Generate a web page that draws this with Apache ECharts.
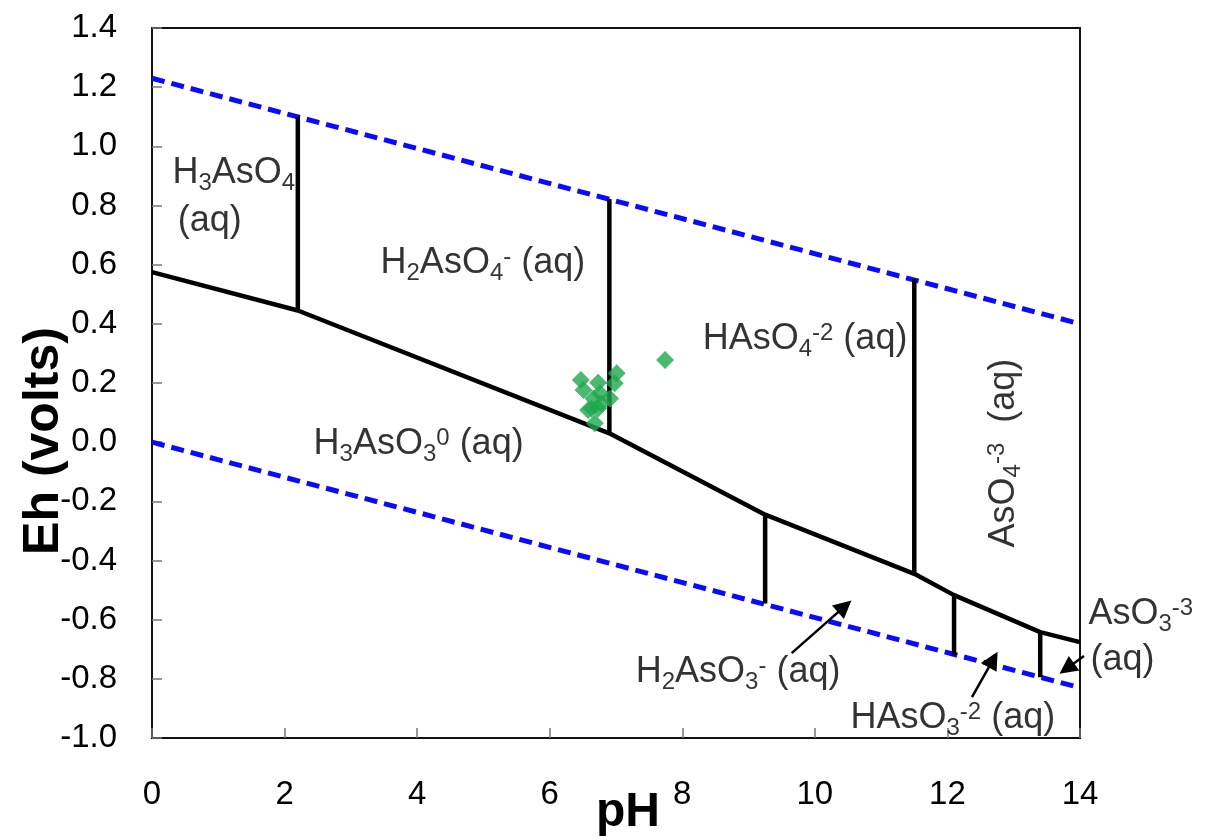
<!DOCTYPE html>
<html>
<head>
<meta charset="utf-8">
<script src="https://cdn.jsdelivr.net/npm/echarts@6/dist/echarts.min.js"></script>
<style>
html,body{margin:0;padding:0;background:#fff;}
#chart{width:1206px;height:837px;}
</style>
</head>
<body>
<div id="chart"></div>
<script>
// ---------- data ----------
const xTicks = [0, 2, 4, 6, 8, 10, 12, 14];
const yTicks = [-1.0, -0.8, -0.6, -0.4, -0.2, 0.0, 0.2, 0.4, 0.6, 0.8, 1.0, 1.2, 1.4];

// water stability limits (pH, Eh)
const waterUpper = [[0, 1.23], [14, 0.40]];
const waterLower = [[0, 0.0], [14, -0.83]];

// As(V) / As(III) boundary
const redoxBoundary = [[0, 0.575], [2.2, 0.445], [6.9, 0.03], [9.25, -0.245],
  [11.5, -0.445], [12.1, -0.517], [13.4, -0.642], [14, -0.676]];

// vertical speciation boundaries
const boundaryPH  = [2.2, 6.9, 11.5, 9.25, 12.1, 13.4];
const boundaryLow = [0.445, 0.03, -0.445, -0.545, -0.72, -0.795];
const boundaryHigh = [1.10, 0.822, 0.551, -0.245, -0.517, -0.642];

// groundwater samples
const samplePH = [7.74, 6.47, 6.51, 6.73, 7.01, 6.98, 6.91, 6.76, 6.66, 6.63, 6.73, 6.58, 6.68, 6.78];
const sampleEh = [0.278, 0.210, 0.176, 0.201, 0.233, 0.199, 0.148, 0.165, 0.148, 0.114, 0.114, 0.109, 0.064, 0.131];

// species labels (rich text) and their anchors (pH, Eh)
const labelTexts = [
  '{n|H}{b|3}{n|AsO}{b|4}',
  '{n|(aq)}',
  '{n|H}{b|2}{n|AsO}{b|4}{p|-}{n| (aq)}',
  '{n|H}{b|3}{n|AsO}{b|3}{p|0}{n| (aq)}',
  '{n|HAsO}{b|4}{p|-2}{n| (aq)}',
  '{n|AsO}{b|4}{p|-3}{n|  (aq)}',
  '{n|H}{b|2}{n|AsO}{b|3}{p|-}{n| (aq)}',
  '{n|HAsO}{b|3}{p|-2}{n| (aq)}',
  '{n|AsO}{b|3}{p|-3}',
  '{n|(aq)}'
];
const labelPH = [0.30, 0.38, 3.44, 2.43, 8.30, 12.85, 7.29, 10.53, 14.12, 14.15];
const labelEh = [0.91, 0.747, 0.606, -0.006, 0.349, -0.037, -0.777, -0.933, -0.581, -0.737];
const labelVertical = [false, false, false, false, false, true, false, false, false, false];

// annotation arrows: [tail, head]
const arrowTail = [[9.65, -0.713], [12.37, -0.862], [14.06, -0.723]];
const arrowHead = [[10.45, -0.555], [12.69, -0.735], [13.80, -0.765]];

// ---------- chart ----------
const FONT = "'Liberation Sans', Arial, Helvetica, sans-serif";
const rich = {
  n: {fontSize: 36, lineHeight: 44, verticalAlign: 'middle', color: '#000', fontFamily: FONT},
  b: {fontSize: 24, lineHeight: 44, verticalAlign: 'bottom', color: '#000', fontFamily: FONT},
  p: {fontSize: 24, lineHeight: 44, verticalAlign: 'top', padding: [4, 0, 0, 0], color: '#000', fontFamily: FONT}
};

const series = [];
series.push({type: 'line', data: waterUpper, showSymbol: false, silent: true,
  lineStyle: {color: '#0a0aff', width: 5, type: [13, 7]}, z: 3});
series.push({type: 'line', data: waterLower, showSymbol: false, silent: true,
  lineStyle: {color: '#0a0aff', width: 5, type: [13, 7]}, z: 3});
series.push({type: 'line', data: redoxBoundary, showSymbol: false, silent: true,
  lineStyle: {color: '#000', width: 4.5}, z: 4});
boundaryPH.forEach((ph, i) => {
  series.push({type: 'line', data: [[ph, boundaryLow[i]], [ph, boundaryHigh[i]]],
    showSymbol: false, silent: true, lineStyle: {color: '#000', width: 4.5, cap: 'butt'}, z: 4});
});
series.push({type: 'scatter', data: samplePH.map((p, i) => [p, sampleEh[i]]),
  symbol: 'diamond', symbolSize: 18, itemStyle: {color: '#1ea84d'}, z: 6});
series.push({type: 'scatter', clip: false, silent: true, z: 7,
  symbolSize: 1, itemStyle: {color: 'rgba(0,0,0,0)'},
  data: labelTexts.map((t, i) => ({
    value: [labelPH[i], labelEh[i]],
    label: labelVertical[i]
      ? {show: true, formatter: t, rich: rich, position: 'inside', rotate: 90, align: 'center', verticalAlign: 'middle'}
      : {show: true, formatter: t, rich: rich, position: 'right', distance: 0}
  }))
});
series.push({type: 'lines', coordinateSystem: 'cartesian2d', clip: false, silent: true, z: 8,
  symbol: ['none', 'triangle'], symbolSize: [15, 18],
  lineStyle: {color: '#000', width: 2.5, opacity: 1},
  itemStyle: {color: '#000'},
  data: arrowTail.map((t, i) => ({coords: [t, arrowHead[i]]}))
});

const chart = echarts.init(document.getElementById('chart'), null, {renderer: 'canvas'});
chart.setOption({
  animation: false,
  backgroundColor: '#fff',
  grid: {left: 152, right: 126, top: 28, bottom: 99, show: true, borderColor: '#111', borderWidth: 2, containLabel: false},
  xAxis: {
    type: 'value', min: xTicks[0], max: xTicks[xTicks.length - 1], interval: 2,
    axisLine: {show: true, onZero: false, lineStyle: {color: '#111', width: 2}},
    axisTick: {show: true, inside: true, length: 10, lineStyle: {color: '#777', width: 1.5}},
    axisLabel: {margin: 40, fontSize: 33, color: '#000', fontFamily: FONT,
      formatter: v => String(v)},
    splitLine: {show: false}
  },
  yAxis: {
    type: 'value', min: yTicks[0], max: yTicks[yTicks.length - 1], interval: 0.2,
    axisLine: {show: true, onZero: false, lineStyle: {color: '#111', width: 2}},
    axisTick: {show: true, inside: true, length: 10, lineStyle: {color: '#777', width: 1.5}},
    axisLabel: {margin: 35, fontSize: 33, color: '#000', fontFamily: FONT,
      formatter: v => v.toFixed(1)},
    splitLine: {show: false}
  },
  graphic: [
    {type: 'text', x: 44, y: 441, rotation: Math.PI / 2, z: 10,
      style: {text: 'Eh (volts)', fontSize: 50, fontWeight: 'bold', fontFamily: FONT, fill: '#000',
        align: 'center', verticalAlign: 'middle', textAlign: 'center', textVerticalAlign: 'middle'}},
    {type: 'text', x: 628, y: 813, z: 10,
      style: {text: 'pH', fontSize: 48, fontWeight: 'bold', fontFamily: FONT, fill: '#000',
        align: 'center', verticalAlign: 'middle', textAlign: 'center', textVerticalAlign: 'middle'}}
  ],
  series: series
});
</script>
</body>
</html>
